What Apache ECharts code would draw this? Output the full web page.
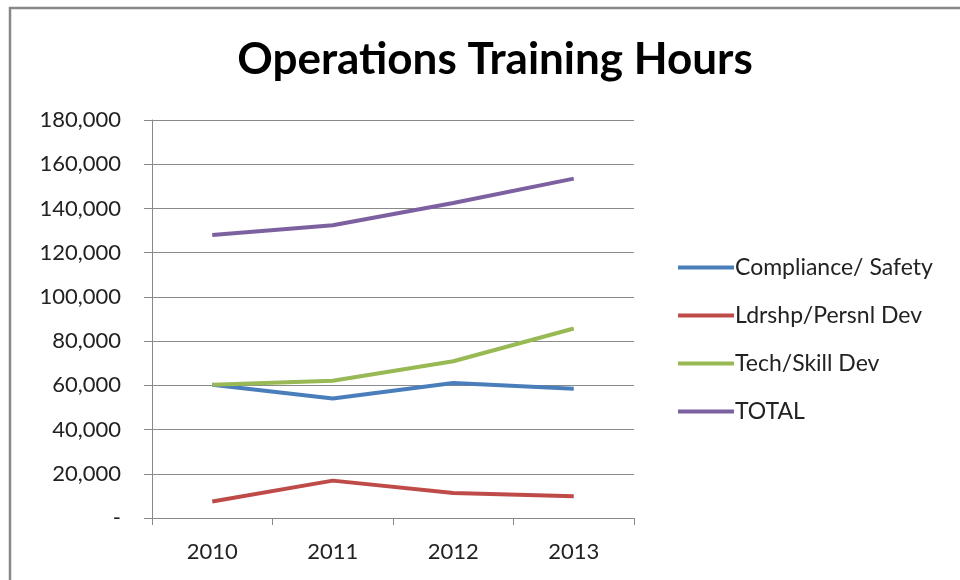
<!DOCTYPE html>
<html>
<head>
<meta charset="utf-8">
<script src="https://cdn.jsdelivr.net/npm/echarts@6/dist/echarts.min.js"></script>
<style>
    html, body { margin: 0; padding: 0; background: #fff; }
    #chart { width: 960px; height: 580px; }
</style>
</head>
<body>
<div id="chart"></div>
<script>
let years = ['2010', '2011', '2012', '2013']
let compliance = [60300, 54000, 61100, 58500]
let ldrshp = [7500, 16900, 11300, 9800]
let techSkill = [60300, 62100, 70900, 85700]
let total = [128000, 132400, 142500, 153500]

let names = ['Compliance/ Safety', 'Ldrshp/Persnl Dev', 'Tech/Skill Dev', 'TOTAL']
let colors = ['#4a7ebb', '#be4b48', '#98b954', '#7d60a0']
let values = [compliance, ldrshp, techSkill, total]

let chart = echarts.init(document.getElementById('chart'))

let option = {
    animation: false,
    title: {
        text: 'Operations Training Hours',
        left: 490,
        textAlign: 'center',
        top: 33,
        textStyle: {
            fontFamily: 'Lato',
            fontWeight: 'bold',
            fontSize: 44,
            color: '#000'
        }
    },
    // 外框
    graphic: [{
        type: 'rect',
        shape: { x: 10, y: 8, width: 1000, height: 640 },
        style: { fill: 'none', stroke: '#888', lineWidth: 2.5 }
    }],
    legend: {
        orient: 'vertical',
        left: 673,
        top: 251,
        itemGap: 25,
        itemWidth: 56,
        itemHeight: 4,
        icon: 'rect',
        textStyle: {
            fontFamily: 'Lato',
            fontSize: 23,
            color: '#222',
            padding: [0, 0, 0, -4]
        },
        data: names
    },
    grid: {
        left: 152,
        right: 326,
        top: 120,
        bottom: 62
    },
    xAxis: {
        type: 'category',
        data: years,
        boundaryGap: true,
        axisLine: { lineStyle: { color: '#888', width: 1 } },
        axisTick: { show: true, length: 7, lineStyle: { color: '#888' } },
        axisLabel: {
            fontFamily: 'Lato',
            fontSize: 22,
            color: '#222',
            margin: 23
        }
    },
    yAxis: {
        type: 'value',
        min: 0,
        max: 180000,
        interval: 20000,
        axisLine: { show: true, lineStyle: { color: '#888', width: 1 } },
        axisTick: { show: true, length: 8, lineStyle: { color: '#888' } },
        splitLine: { lineStyle: { color: '#8a8a8a', width: 1 } },
        axisLabel: {
            fontFamily: 'Lato',
            fontSize: 22,
            color: '#222',
            margin: 31,
            formatter(v) {
                if (v === 0) return '-'
                return v.toLocaleString('en-US')
            }
        }
    },
    series: names.map((n, i) => ({
        name: n,
        type: 'line',
        data: values[i],
        showSymbol: false,
        symbol: 'none',
        lineStyle: { color: colors[i], width: 4 },
        itemStyle: { color: colors[i] }
    }))
}

chart.setOption(option)
</script>
</body>
</html>
